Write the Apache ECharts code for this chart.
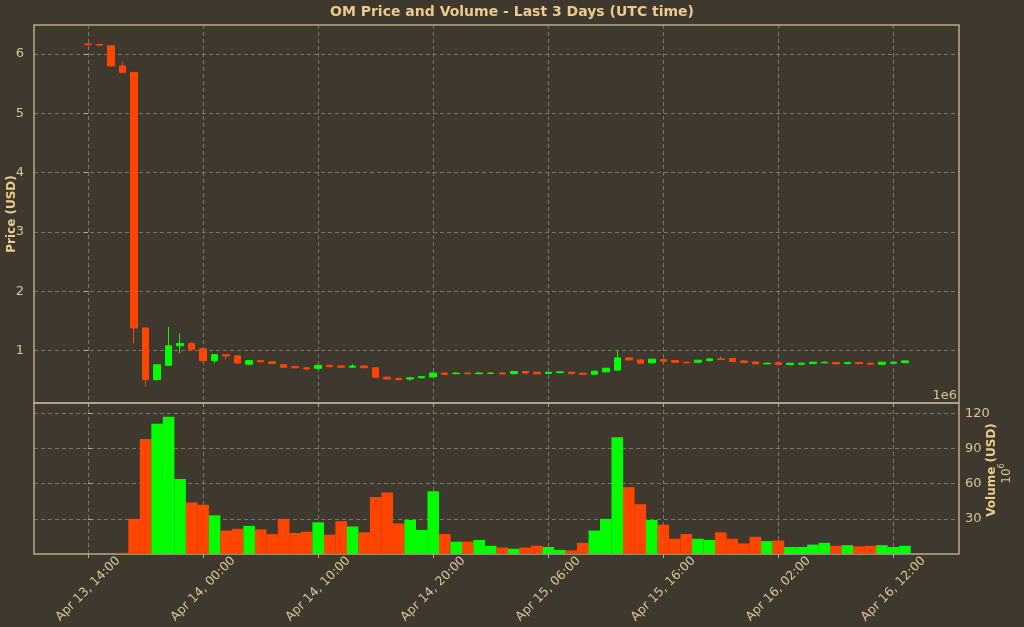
<!DOCTYPE html>
<html><head><meta charset="utf-8">
<script src="https://cdn.jsdelivr.net/npm/echarts@6/dist/echarts.min.js"></script>
<style>html,body{margin:0;padding:0;background:#3e382f;}#c{width:1024px;height:627px;}</style>
</head><body><div id="c"></div>
<script>
// hour index 0 = Apr 13, 14:00 (UTC)
const tickIdx = [0,10,20,30,40,50,60,70];
const tickLabels = ["Apr 13, 14:00","Apr 14, 00:00","Apr 14, 10:00","Apr 14, 20:00","Apr 15, 06:00","Apr 15, 16:00","Apr 16, 02:00","Apr 16, 12:00"];
// [open, close, low, high]
const ohlc = [
[6.17,6.16,6.15,6.18],[6.16,6.15,6.14,6.17],[6.14,5.80,5.79,6.15],[5.80,5.69,5.68,5.87],
[5.69,1.38,1.12,5.70],[1.38,0.51,0.39,1.39],[0.51,0.76,0.49,0.77],[0.75,1.08,0.74,1.40],
[1.08,1.12,0.95,1.29],[1.12,1.02,1.00,1.14],[1.03,0.83,0.82,1.04],[0.83,0.93,0.78,0.94],
[0.93,0.91,0.85,0.94],[0.91,0.79,0.77,0.92],[0.77,0.83,0.75,0.84],[0.83,0.81,0.80,0.84],
[0.81,0.78,0.77,0.82],[0.76,0.72,0.71,0.77],[0.73,0.71,0.70,0.74],[0.71,0.69,0.67,0.72],
[0.70,0.75,0.68,0.76],[0.75,0.73,0.72,0.76],[0.74,0.72,0.71,0.75],[0.72,0.74,0.71,0.77],
[0.74,0.71,0.70,0.75],[0.71,0.55,0.54,0.72],[0.55,0.52,0.51,0.56],[0.53,0.51,0.50,0.54],
[0.52,0.54,0.49,0.55],[0.54,0.56,0.53,0.57],[0.555,0.62,0.55,0.63],[0.62,0.60,0.59,0.63],
[0.61,0.62,0.60,0.63],[0.62,0.61,0.60,0.63],[0.61,0.62,0.60,0.64],[0.615,0.62,0.61,0.63],
[0.62,0.605,0.60,0.63],[0.61,0.645,0.60,0.65],[0.645,0.62,0.61,0.65],[0.634,0.606,0.60,0.64],
[0.611,0.634,0.60,0.64],[0.628,0.64,0.62,0.65],[0.634,0.611,0.60,0.64],[0.617,0.60,0.59,0.62],
[0.60,0.651,0.59,0.66],[0.64,0.70,0.63,0.71],[0.67,0.876,0.66,1.01],[0.876,0.842,0.83,0.89],
[0.842,0.786,0.77,0.85],[0.792,0.854,0.78,0.86],[0.848,0.82,0.81,0.86],[0.831,0.803,0.80,0.84],
[0.803,0.792,0.78,0.81],[0.803,0.837,0.80,0.84],[0.831,0.859,0.82,0.87],[0.859,0.848,0.84,0.90],
[0.865,0.814,0.81,0.87],[0.825,0.797,0.79,0.83],[0.808,0.775,0.77,0.81],[0.775,0.786,0.77,0.79],
[0.792,0.764,0.76,0.80],[0.764,0.786,0.76,0.79],[0.769,0.786,0.76,0.79],[0.780,0.803,0.77,0.81],
[0.792,0.803,0.79,0.81],[0.797,0.775,0.77,0.80],[0.780,0.797,0.77,0.80],[0.797,0.780,0.77,0.80],
[0.786,0.769,0.76,0.79],[0.769,0.803,0.76,0.81],[0.786,0.803,0.78,0.81],[0.797,0.825,0.79,0.83]
];
// volume in millions USD
const volume = [0,0,0,1,30,98,111,117,64,44,42,33,20,21.5,24,21,17,30,18,19,27,16.5,28,23.5,18.5,48.6,52.5,26,29,20.5,53.5,17,10.5,10.5,12,7,5.5,4.5,5.5,
7,6,3.5,3,9.5,20,30,99.5,57,42.5,29,25,13,17,13,12,18.5,13,9,14.7,11,11.5,6,6,8,9.5,7,7.5,6.5,7,7.5,6,7];
const volTicks = [30,60,90,120];
const priceTicks = [1,2,3,4,5,6];

const UP='#00ff00', DOWN='#ff4500', TXT='#d9c393', GRID='#a5977a', FRAME='#b9aa88';
const FONT='DejaVu Sans';
const candleData = ohlc.map((d,i)=>[i,d[0],d[1],d[2],d[3]]);
const volData = volume.map((v,i)=>({value:[i,v], itemStyle:{color: ohlc[i][1]>=ohlc[i][0]?UP:DOWN}}));
const split = {show:true, lineStyle:{color:GRID, type:[4,3], width:0.8, opacity:0.8}};
const xCommon = {type:'value', min:-4.7, max:75.7,
  axisLine:{show:false}, splitLine:split,
  axisTick:{show:true, customValues:tickIdx, length:4, lineStyle:{color:FRAME}}};
const chart = echarts.init(document.getElementById('c'));
chart.setOption({
  backgroundColor:'#3e382f', animation:false,
  textStyle:{fontFamily:FONT},
  grid:[{left:34, top:25, width:925, height:378, show:true, borderColor:FRAME, borderWidth:1.5},
        {left:34, top:403, width:925, height:151, show:true, borderColor:FRAME, borderWidth:1.5}],
  xAxis:[
    Object.assign({gridIndex:0}, xCommon, {axisLabel:{show:false, customValues:tickIdx}}),
    Object.assign({gridIndex:1}, xCommon, {axisLabel:{show:true, customValues:tickIdx, rotate:45, color:TXT, fontSize:12.5, fontFamily:FONT, margin:35,
      align:'center', verticalAlign:'middle',
      formatter:v=>{const k=tickIdx.indexOf(Math.round(v)); return k>=0?tickLabels[k]:'';}}})
  ],
  yAxis:[
    {type:'value', gridIndex:0, min:0.115, max:6.49, axisLine:{show:false},
     axisTick:{show:true, customValues:priceTicks, length:4, lineStyle:{color:FRAME}},
     axisLabel:{customValues:priceTicks, color:TXT, fontSize:13, fontFamily:FONT, margin:10}, splitLine:split},
    {type:'value', gridIndex:1, position:'right', min:0, max:128.8, axisLine:{show:false},
     axisTick:{show:true, customValues:volTicks, length:4, lineStyle:{color:FRAME}},
     axisLabel:{customValues:volTicks, color:TXT, fontSize:13, fontFamily:FONT, margin:6}, splitLine:split}
  ],
  series:[
    {type:'candlestick', xAxisIndex:0, yAxisIndex:0, data:candleData, encode:{x:0,y:[1,2,3,4]}, barWidth:7,
     itemStyle:{color:UP, color0:DOWN, borderColor:UP, borderColor0:DOWN, borderWidth:1}},
    {type:'bar', xAxisIndex:1, yAxisIndex:1, data:volData, barWidth:11.6, barGap:'-100%'}
  ],
  graphic:[
    {type:'text', left:'center', top:5, style:{text:'OM Price and Volume - Last 3 Days (UTC time)', fill:'#ebca8c', font:'bold 14px "DejaVu Sans"'}},
    {type:'text', x:12, y:214, rotation:Math.PI/2, style:{text:'Price (USD)', fill:'#ebca8c', font:'bold 12px "DejaVu Sans"', align:'center', verticalAlign:'middle'}},
    {type:'text', x:992, y:470, rotation:Math.PI/2, style:{text:'Volume (USD)', fill:'#ebca8c', font:'bold 12px "DejaVu Sans"', align:'center', verticalAlign:'middle'}},
    {type:'text', x:1007, y:476, rotation:Math.PI/2, style:{text:'10', fill:TXT, font:'12px "DejaVu Sans"', align:'center', verticalAlign:'middle'}},
    {type:'text', x:1002, y:466, rotation:Math.PI/2, style:{text:'6', fill:TXT, font:'8px "DejaVu Sans"', align:'center', verticalAlign:'middle'}},
    {type:'text', x:957, y:389, style:{text:'1e6', fill:TXT, font:'13px "DejaVu Sans"', align:'right'}}
  ]
});
</script></body></html>
